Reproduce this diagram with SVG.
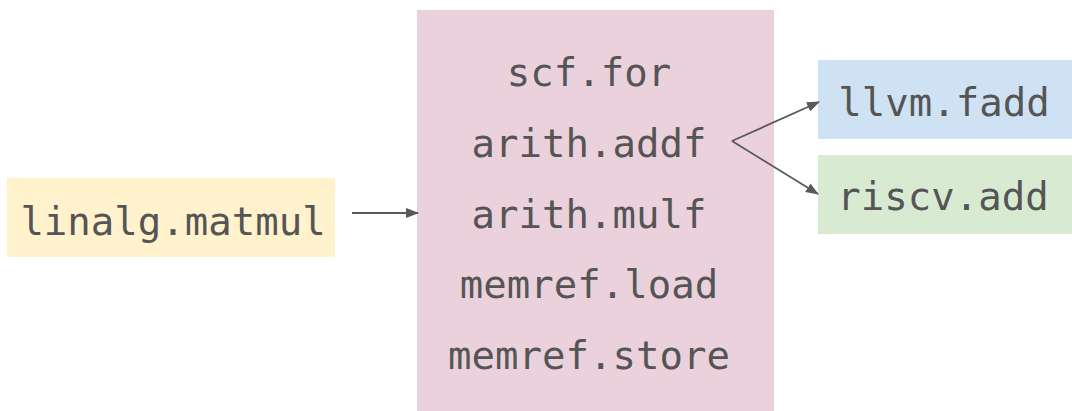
<svg xmlns="http://www.w3.org/2000/svg" width="1072" height="411" viewBox="0 0 1072 411">
  <style>
    .lbl { font-family: "DejaVu Sans Mono", "Liberation Mono", monospace; font-size: 39px; fill: #555555; text-anchor: middle; }
    .edge { stroke: #595959; stroke-width: 1.8; fill: none; }
  </style>
  <defs>
    <marker id="arrow" viewBox="0 0 13 10" refX="12" refY="5" markerWidth="13" markerHeight="10" markerUnits="userSpaceOnUse" orient="auto">
      <path d="M0,0 L13,5 L0,10 z" fill="#595959"/>
    </marker>
  </defs>
  <rect width="1072" height="411" fill="#ffffff"/>

  <g id="node-matmul">
    <rect x="7" y="178" width="328" height="79" fill="#fff2cc"/>
    <text class="lbl" x="173" y="235">linalg.matmul</text>
  </g>

  <g id="node-loops">
    <rect x="417" y="10" width="357" height="401" fill="#ead1dc"/>
    <text class="lbl" x="589" y="86">scf.for</text>
    <text class="lbl" x="589" y="157">arith.addf</text>
    <text class="lbl" x="589" y="228">arith.mulf</text>
    <text class="lbl" x="589" y="298">memref.load</text>
    <text class="lbl" x="589" y="369">memref.store</text>
  </g>

  <g id="node-llvm">
    <rect x="818" y="60" width="254" height="79" fill="#cfe2f3"/>
    <text class="lbl" x="944" y="116">llvm.fadd</text>
  </g>

  <g id="node-riscv">
    <rect x="818" y="155" width="254" height="79" fill="#d9ead3"/>
    <text class="lbl" x="943" y="210">riscv.add</text>
  </g>

  <g id="connectors">
    <line class="edge" x1="352" y1="213" x2="418" y2="213" marker-end="url(#arrow)"/>
    <line class="edge" x1="732" y1="141" x2="819" y2="102" marker-end="url(#arrow)"/>
    <line class="edge" x1="732" y1="141" x2="818" y2="194" marker-end="url(#arrow)"/>
  </g>
</svg>
